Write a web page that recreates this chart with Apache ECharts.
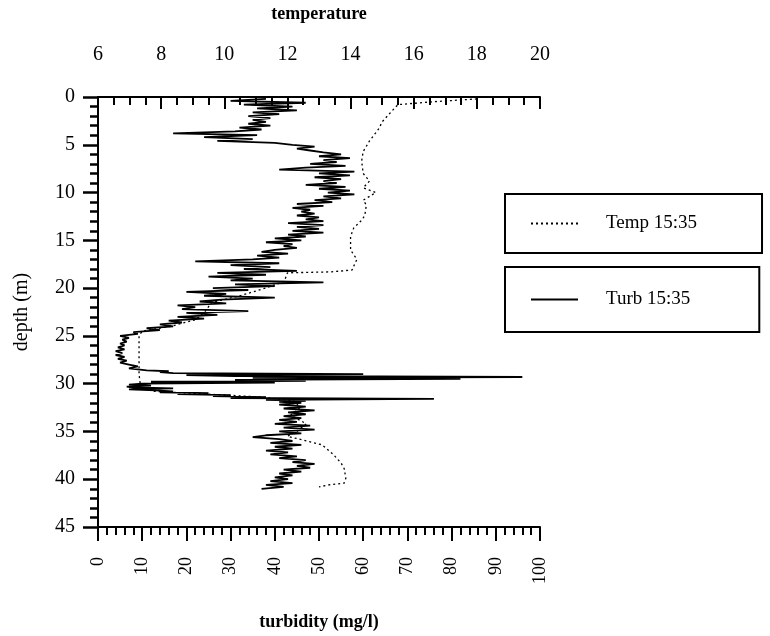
<!DOCTYPE html>
<html>
<head>
<meta charset="utf-8">
<script src="https://cdn.jsdelivr.net/npm/echarts@6/dist/echarts.min.js"></script>
<style>
html,body{margin:0;padding:0;background:#fff;}
#chart{width:770px;height:636px;}
</style>
</head>
<body>
<div id="chart"></div>
<script>
// ---- Data ----
var tempDepth = [0.2, 0.5, 0.8, 1.5, 2.6, 3.3, 4.6, 5.7, 6.7, 8.0, 8.8, 9.5, 10.0, 10.8, 11.3, 12.4, 12.9, 13.7, 14.6, 16.0, 17.0, 17.7, 18.1, 18.3, 18.4, 19.3, 20.0, 20.8, 21.5, 22.4, 23.3, 24.0, 24.5, 25.0, 27.0, 29.0, 30.4, 30.8, 31.1, 31.4, 31.8, 32.5, 33.3, 34.2, 35.0, 35.5, 36.4, 37.4, 38.3, 38.9, 39.9, 40.4, 40.6, 40.8];
var tempValue = [18.0, 16.6, 15.5, 15.3, 15.0, 14.9, 14.6, 14.4, 14.35, 14.4, 14.6, 14.4, 14.8, 14.4, 14.5, 14.45, 14.35, 14.1, 14.0, 14.0, 14.2, 14.1, 14.05, 13.4, 12.0, 11.9, 11.3, 10.5, 9.6, 9.4, 9.1, 8.3, 7.4, 7.3, 7.3, 7.3, 7.35, 7.8, 9.5, 11.2, 12.2, 12.4, 12.1, 12.6, 12.3, 12.0, 13.1, 13.45, 13.7, 13.8, 13.85, 13.8, 13.3, 13.0];

var turbDepth = [
  0.2, 0.4, 0.6, 0.8, 1.0, 1.2, 1.4, 1.6, 1.8, 2.0,
  2.2, 2.4, 2.6, 2.8, 3.0, 3.2, 3.4, 3.6, 3.8, 4.0,
  4.2, 4.4, 4.6, 4.8, 5.0, 5.2, 5.4, 5.6, 5.8, 6.0,
  6.2, 6.4, 6.6, 6.8, 7.0, 7.2, 7.4, 7.6, 7.8, 8.0,
  8.2, 8.4, 8.6, 8.8, 9.0, 9.2, 9.4, 9.6, 9.8, 10.0,
  10.2, 10.4, 10.6, 10.8, 11.0, 11.2, 11.4, 11.6, 11.8, 12.0,
  12.2, 12.4, 12.6, 12.8, 13.0, 13.2, 13.4, 13.6, 13.8, 14.0,
  14.2, 14.4, 14.6, 14.8, 15.0, 15.2, 15.4, 15.6, 15.8, 16.0,
  16.2, 16.4, 16.6, 16.8, 17.0, 17.2, 17.4, 17.6, 17.8, 18.0,
  18.2, 18.4, 18.6, 18.8, 19.0, 19.2, 19.4, 19.6, 19.8, 20.0,
  20.2, 20.4, 20.6, 20.8, 21.0, 21.2, 21.4, 21.6, 21.8, 22.0,
  22.2, 22.4, 22.6, 22.8, 23.0, 23.2, 23.4, 23.6, 23.8, 24.0,
  24.2, 24.4, 24.6, 24.8, 25.0, 25.2, 25.4, 25.6, 25.8, 26.0,
  26.2, 26.4, 26.6, 26.8, 27.0, 27.2, 27.4, 27.6, 27.8, 28.0,
  28.2, 28.4, 28.6, 28.7, 28.8, 28.9, 29.0, 29.1, 29.2, 29.3,
  29.4, 29.5, 29.6, 29.7, 29.8, 29.9, 30.0, 30.1, 30.2, 30.3,
  30.4, 30.5, 30.6, 30.7, 30.8, 30.9, 31.0, 31.1, 31.2, 31.3,
  31.4, 31.5, 31.6, 31.7, 31.8, 31.9, 32.0, 32.2, 32.4, 32.6,
  32.8, 33.0, 33.2, 33.4, 33.6, 33.8, 34.0, 34.2, 34.4, 34.6,
  34.8, 35.0, 35.2, 35.4, 35.6, 35.8, 36.0, 36.2, 36.4, 36.6,
  36.8, 37.0, 37.2, 37.4, 37.6, 37.8, 38.0, 38.2, 38.4, 38.6,
  38.8, 39.0, 39.2, 39.4, 39.6, 39.8, 40.0, 40.2, 40.4, 40.6,
  40.8, 41.0
];
var turbValue = [
  38, 30, 47, 33, 44, 36, 45, 35, 41, 34,
  39, 35, 38, 34, 39, 32, 37, 31, 17, 36,
  24, 35, 27, 40, 44, 49, 45, 48, 51, 55,
  50, 57, 51, 54, 48, 56, 47, 41, 58, 50,
  57, 49, 55, 51, 54, 47, 56, 50, 57, 52,
  58, 51, 55, 49, 53, 45, 51, 44, 48, 46,
  49, 45, 50, 47, 51, 43, 51, 45, 50, 44,
  51, 43, 47, 40, 46, 38, 44, 42, 45, 40,
  37, 43, 36, 41, 35, 22, 41, 30, 39, 33,
  45, 27, 38, 25, 35, 30, 51, 31, 40, 26,
  34, 20, 29, 24, 40, 28, 23, 29, 18, 22,
  19, 34, 20, 27, 18, 24, 16, 19, 14, 17,
  11, 14, 8, 9, 5, 7, 5.5, 6.5, 5, 6,
  4.5, 6, 4, 5.5, 4, 6, 4.5, 6.5, 5, 7,
  9, 7, 11, 16, 14, 17, 60, 20, 31, 96,
  35, 82, 31, 47, 12, 40, 10, 7, 12, 6.5,
  8, 17, 7, 13, 17, 14, 25, 18, 30, 26,
  38, 30, 76, 38, 47, 41, 46, 41, 47, 42,
  49, 43, 47, 42, 46, 41, 45, 40, 48, 42,
  49, 41, 46, 38, 35, 41, 44, 39, 46, 40,
  44, 38, 43, 39, 45, 41, 47, 44, 49, 45,
  48, 42, 46, 41, 44, 40, 43, 39, 44, 38,
  42, 37
];

var tempTicks = [6, 20, 2];     // min, max, interval
var turbTicks = [0, 100, 10];
var depthTicks = [0, 45, 5];

var tempName = 'Temp 15:35';
var turbName = 'Turb 15:35';

// ---- Chart ----
var FONT = '"Liberation Serif", "DejaVu Serif", serif';
var chart = echarts.init(document.getElementById('chart'), null, {renderer: 'canvas'});

function legendCfg(name, top, padRight, h) {
  return {
    data: [name],
    left: 505,
    top: top,
    orient: 'horizontal',
    padding: [h, padRight, h, 25],
    itemWidth: 47,
    itemHeight: 14,
    borderColor: '#000',
    borderWidth: 2,
    borderRadius: 0,
    backgroundColor: '#fff',
    itemStyle: {opacity: 0},
    textStyle: {fontFamily: FONT, fontSize: 19, color: '#000', padding: [0, 0, 0, 23]}
  };
}

var option = {
  backgroundColor: '#fff',
  animation: false,
  color: ['#000', '#000'],
  grid: {left: 98, top: 95, width: 442, height: 437, containLabel: false},
  legend: [legendCfg(tempName, 194, 65, 20), legendCfg(turbName, 267, 69, 23)],
  xAxis: [
    {
      type: 'value', position: 'top', min: tempTicks[0], max: tempTicks[1], interval: tempTicks[2],
      name: 'temperature', nameLocation: 'middle', nameGap: 74,
      nameTextStyle: {fontFamily: FONT, fontSize: 18, fontWeight: 'bold', color: '#000'},
      axisLine: {show: true, onZero: false, lineStyle: {color: '#000', width: 2}},
      axisTick: {show: true, inside: true, length: 12, lineStyle: {color: '#000', width: 2}},
      minorTick: {show: true, splitNumber: 4, length: 8, lineStyle: {color: '#000', width: 2}},
      axisLabel: {margin: 32, fontFamily: FONT, fontSize: 20, color: '#000'},
      splitLine: {show: false}, minorSplitLine: {show: false}
    },
    {
      type: 'value', position: 'bottom', min: turbTicks[0], max: turbTicks[1], interval: turbTicks[2],
      name: 'turbidity (mg/l)', nameLocation: 'middle', nameGap: 86,
      nameTextStyle: {fontFamily: FONT, fontSize: 18, fontWeight: 'bold', color: '#000'},
      axisLine: {show: true, onZero: false, lineStyle: {color: '#000', width: 2}},
      axisTick: {show: true, inside: false, length: 14, lineStyle: {color: '#000', width: 2}},
      minorTick: {show: true, splitNumber: 5, length: 8, lineStyle: {color: '#000', width: 2}},
      axisLabel: {margin: 30, rotate: 90, fontFamily: FONT, fontSize: 18, color: '#000'},
      splitLine: {show: false}, minorSplitLine: {show: false}
    }
  ],
  yAxis: [{
    type: 'value', inverse: true, min: depthTicks[0], max: depthTicks[1], interval: depthTicks[2],
    name: 'depth (m)', nameLocation: 'middle', nameGap: 66, nameRotate: 90,
    nameTextStyle: {fontFamily: FONT, fontSize: 20, color: '#000'},
    axisLine: {show: true, onZero: false, lineStyle: {color: '#000', width: 2}},
    axisTick: {show: true, inside: false, length: 15, lineStyle: {color: '#000', width: 2.5}},
    minorTick: {show: true, splitNumber: 5, length: 8, lineStyle: {color: '#000', width: 2.5}},
    axisLabel: {margin: 23, fontFamily: FONT, fontSize: 20, color: '#000'},
    splitLine: {show: false}, minorSplitLine: {show: false}
  }],
  series: [
    {
      name: tempName, type: 'line', xAxisIndex: 0, yAxisIndex: 0,
      data: tempDepth.map(function (d, i) { return [tempValue[i], d]; }),
      symbol: 'none', smooth: false,
      lineStyle: {color: '#000', width: 1.3, type: [2, 3]},
      itemStyle: {color: '#000'}
    },
    {
      name: turbName, type: 'line', xAxisIndex: 1, yAxisIndex: 0,
      data: turbDepth.map(function (d, i) { return [turbValue[i], d]; }),
      symbol: 'none', smooth: false,
      lineStyle: {color: '#000', width: 1.8},
      itemStyle: {color: '#000'}
    }
  ]
};
chart.setOption(option);
</script>
</body>
</html>
